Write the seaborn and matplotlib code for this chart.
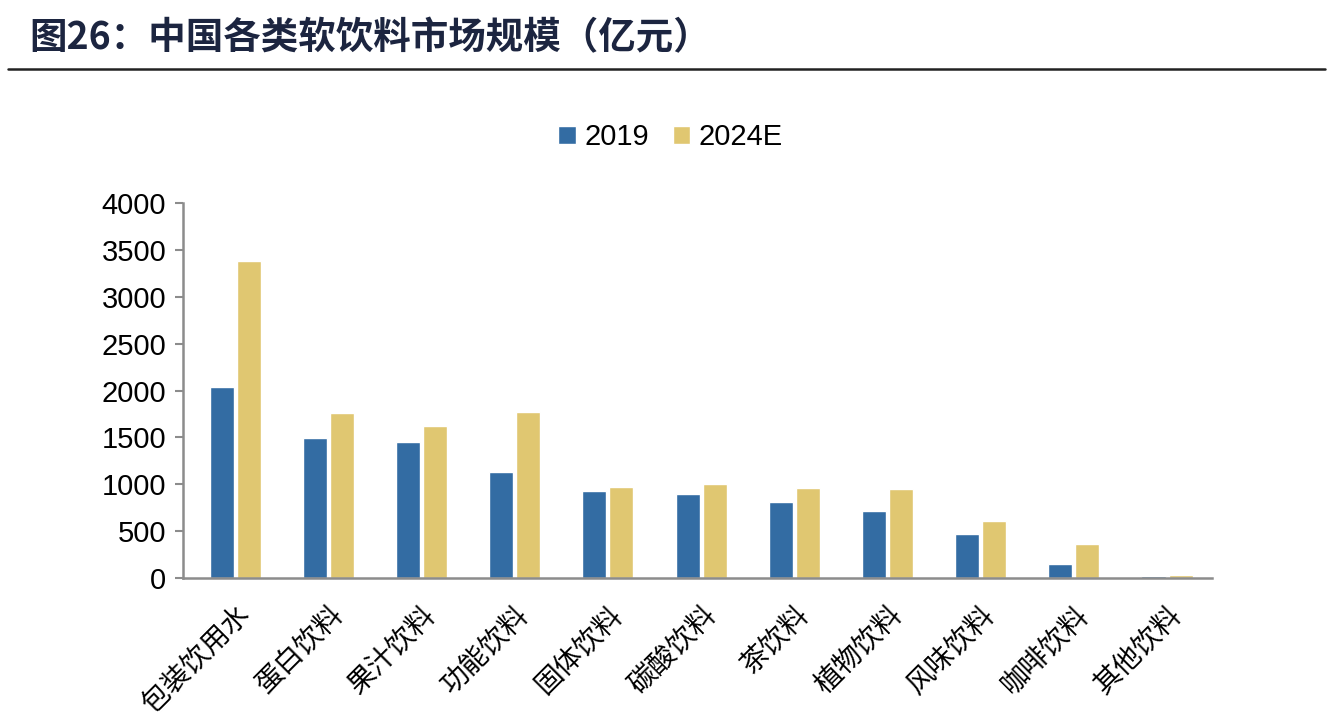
import pandas as pd
import matplotlib
matplotlib.use('Agg')
import matplotlib.pyplot as plt
from matplotlib.lines import Line2D
import seaborn as sns

categories = ['包装饮用水', '蛋白饮料', '果汁饮料', '功能饮料', '固体饮料', '碳酸饮料',
              '茶饮料', '植物饮料', '风味饮料', '咖啡饮料', '其他饮料']
years = ['2019', '2024E']
v2019 = [2035, 1490, 1447, 1134, 931, 899, 807, 711, 466, 149, 25]
v2024 = [3385, 1757, 1618, 1774, 974, 1003, 957, 949, 608, 359, 32]
yticks = [0, 500, 1000, 1500, 2000, 2500, 3000, 3500, 4000]

df = pd.DataFrame({
    'cat': categories * 2,
    'year': [years[0]] * len(categories) + [years[1]] * len(categories),
    'val': v2019 + v2024,
})

sns.set_theme(style='white')
fonts = ['Liberation Sans', 'Noto Sans CJK SC', 'DejaVu Sans']
plt.rcParams['font.family'] = fonts
plt.rcParams['text.color'] = 'black'

fig = plt.figure(figsize=(13.36, 7.18), dpi=100)
ax = fig.add_axes([0.137, 0.195, 0.77, 0.522])

sns.barplot(data=df, x='cat', y='val', hue='year', ax=ax,
            palette=['#336ca3', '#e0c771'], width=0.58, gap=0.11,
            saturation=1, legend=True)

ax.set_ylim(0, 4000)
ax.set_xlim(-0.56, 10.48)
ax.set_yticks(yticks)
ax.set_yticklabels([str(t) for t in yticks], fontsize=21, color='black')
ax.set_xticks(range(len(categories)))
ax.set_xticklabels(categories, fontsize=20, rotation=45, ha='right', color='black',
                   rotation_mode='anchor', family=['Noto Sans CJK SC'])
ax.set_xlabel('')
ax.set_ylabel('')
for s in ['top', 'right']:
    ax.spines[s].set_visible(False)
for s in ['left', 'bottom']:
    ax.spines[s].set_color('#8c8c8c')
    ax.spines[s].set_linewidth(1.8)
ax.tick_params(axis='y', left=True, length=6, width=1.5, color='#8c8c8c', pad=6)
ax.tick_params(axis='x', bottom=False, pad=10)

ax.legend(loc='center', bbox_to_anchor=(0.502, 0.809), bbox_transform=fig.transFigure,
          ncol=2, frameon=False, fontsize=21, handlelength=0.6, handleheight=0.6,
          handletextpad=0.3, columnspacing=0.8)

fig.text(0.022, 0.947, '图26：中国各类软饮料市场规模（亿元）', fontsize=27,
         fontweight='bold', color='#1c2540', va='center',
         family=['Noto Sans CJK SC', 'DejaVu Sans'])
fig.add_artist(Line2D([0.006, 0.992], [0.904, 0.904], transform=fig.transFigure,
                      color='#222222', linewidth=1.8))

fig.savefig('out.png', dpi=100)
